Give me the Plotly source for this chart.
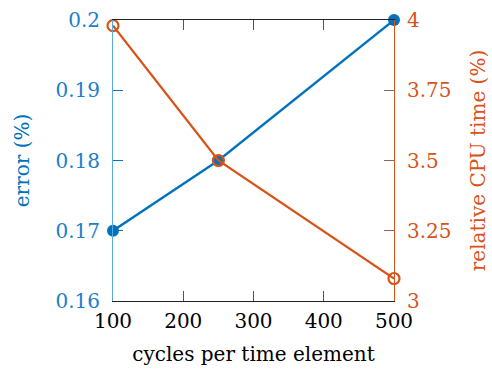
import plotly.graph_objects as go

cycles = [100, 250, 500]
error_pct = [0.17, 0.18, 0.20]
cpu_time_pct = [3.98, 3.5, 3.08]

x_ticks = [100, 200, 300, 400, 500]
x_ticklabels = ["100", "200", "300", "400", "500"]
y1_ticks = [0.16, 0.17, 0.18, 0.19, 0.2]
y1_ticklabels = ["0.16", "0.17", "0.18", "0.19", "0.2"]
y2_ticks = [3, 3.25, 3.5, 3.75, 4]
y2_ticklabels = ["3", "3.25", "3.5", "3.75", "4"]

BLUE = "#0072BD"
ORANGE = "#D95319"
FONT = "DejaVu Serif"

fig = go.Figure()
fig.add_trace(go.Scatter(
    x=cycles, y=error_pct, mode="lines+markers", yaxis="y",
    line=dict(color=BLUE, width=2.3),
    marker=dict(symbol="circle", size=12, color=BLUE),
    cliponaxis=False, showlegend=False))
fig.add_trace(go.Scatter(
    x=cycles, y=cpu_time_pct, mode="lines+markers", yaxis="y2",
    line=dict(color=ORANGE, width=2.3),
    marker=dict(symbol="circle-open", size=11, color=ORANGE, line=dict(width=2.2)),
    cliponaxis=False, showlegend=False))

fig.update_layout(
    width=492, height=371,
    margin=dict(l=113, r=98, t=20, b=70, autoexpand=False),
    paper_bgcolor="white", plot_bgcolor="white",
    font=dict(family=FONT, size=20, color="black"),
    xaxis=dict(
        range=[100, 500], tickvals=x_ticks, ticktext=x_ticklabels,
        ticks="inside", ticklen=10, tickcolor="#555", showgrid=False, zeroline=False,
        showline=True, linecolor="#222", linewidth=1, mirror="ticks",
        ticklabelstandoff=2, automargin=False,
        title=dict(text="cycles per time element", font=dict(size=20), standoff=14),
        tickfont=dict(size=20, color="black"),
    ),
    yaxis=dict(
        range=[0.16, 0.2], tickvals=y1_ticks, ticktext=y1_ticklabels,
        ticks="inside", ticklen=10, tickcolor=BLUE, showgrid=False, zeroline=False,
        showline=True, linecolor="#5aaade", linewidth=1,
        ticklabelstandoff=8, automargin=False,
        title=dict(text="error (%)", font=dict(size=20, color=BLUE), standoff=20),
        tickfont=dict(size=20, color="#1a80c8"),
    ),
    yaxis2=dict(
        range=[3, 4], tickvals=y2_ticks, ticktext=y2_ticklabels,
        overlaying="y", side="right",
        ticks="inside", ticklen=10, tickcolor="#8a6a5a", showgrid=False, zeroline=False,
        showline=True, linecolor=ORANGE, linewidth=1,
        ticklabelstandoff=8, automargin=False,
        title=dict(text="relative CPU time (%)", font=dict(size=20, color=ORANGE), standoff=20),
        tickfont=dict(size=20, color=ORANGE),
    ),
)

fig.write_html("out.html")
